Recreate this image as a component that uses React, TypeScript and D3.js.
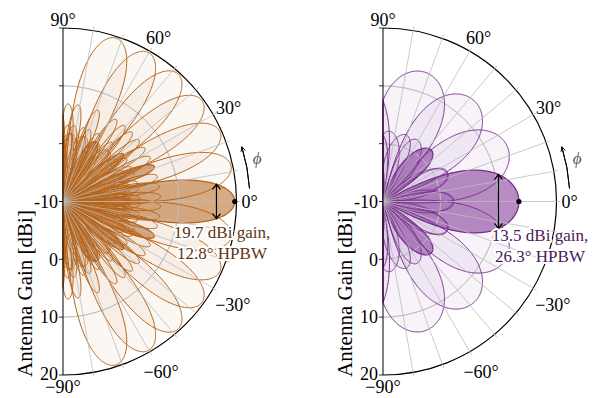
import React, { useEffect, useRef } from 'react';
import * as d3 from 'd3';

const gainTicks = [-10, 0, 10, 20];
const gridGains = [0, 10];
const angleLabels = [90, 60, 30, 0, -30, -60, -90];
const gridAngles = d3.range(-80, 90, 10);

const leftSteer = [-72, -60, -48, -36, -24, -12, 0, 12, 24, 36, 48, 60, 72];
const rightSteer = [-72, -48, -24, 0, 24, 48, 72];

const panels = [
  {
    cx: 63, steer: leftSteer, elements: 8, peak: 19.7, hpbw: 12.8,
    stroke: '#b5651d', text: '#5e3614', lightOpacity: 0.055, mainOpacity: 0.55,
    lines: ['19.7 dBi gain,', '12.8° HPBW'], textX: 222, textY: 232,
  },
  {
    cx: 383, steer: rightSteer, elements: 4, peak: 13.5, hpbw: 26.3,
    stroke: '#7b2d91', text: '#4a1a5a', lightOpacity: 0.06, mainOpacity: 0.55,
    lines: ['13.5 dBi gain,', '26.3° HPBW'], textX: 540, textY: 235,
  },
];

const CY = 201.5;
const R = 173.5;
const FONT = '"Liberation Serif", "Times New Roman", serif';
// vertical nudge of the angle labels, as in the original layout
const labelNudge: Record<number, number> = { 90: -3, 60: -9, 30: -5, 0: 0, '-30': 14, '-60': 16, '-90': 7 };

// broadside array pattern (N elements, half-wavelength), turned to the beam direction
function gainAt(thetaDeg: number, steerDeg: number, n: number, peak: number) {
  const u = Math.sin(((thetaDeg - steerDeg) * Math.PI) / 180);
  const psi = Math.PI * u;
  const den = n * Math.sin(psi / 2);
  const af = Math.abs(den) < 1e-9 ? 1 : Math.abs(Math.sin((n * psi) / 2) / den);
  return peak + 20 * Math.log10(Math.max(af, 1e-6));
}

const Panel: React.FC<{ p: typeof panels[number] }> = ({ p }) => {
  const gRef = useRef<SVGGElement>(null);

  useEffect(() => {
    if (!gRef.current) return;
    const g = d3.select(gRef.current);
    g.selectAll('*').remove();

    const rScale = d3.scaleLinear().domain([-10, 20]).range([0, R]).clamp(true);
    const rad = (deg: number) => (deg * Math.PI) / 180;
    const pt = (deg: number, r: number): [number, number] => [
      p.cx + r * Math.cos(rad(deg)),
      CY - r * Math.sin(rad(deg)),
    ];

    const thetas = d3.range(-90, 90.001, 0.2);
    const line = d3
      .lineRadial<number[]>()
      .angle((d) => Math.PI / 2 - rad(d[0]))
      .radius((d) => rScale(d[1]));

    const root = g.append('g').attr('transform', `translate(${p.cx},${CY})`);

    const beams = p.steer.map((s) => ({
      s,
      pts: thetas.map((t) => [t, gainAt(t, s, p.elements, p.peak)]),
    }));
    const others = beams.filter((b) => b.s !== 0);
    const main = beams.find((b) => b.s === 0)!;
    const pathOf = (b: { pts: number[][] }) => line(b.pts) + 'L0,0Z';

    // fills
    others.forEach((b) => {
      root.append('path')
        .attr('d', pathOf(b))
        .attr('fill', p.stroke)
        .attr('fill-opacity', p.lightOpacity)
        .attr('stroke', 'none');
    });
    root.append('path')
      .attr('d', pathOf(main))
      .attr('fill', p.stroke)
      .attr('fill-opacity', p.mainOpacity)
      .attr('stroke', 'none');

    // grid
    gridGains.forEach((v) => {
      const arc = d3.arc()({ innerRadius: rScale(v), outerRadius: rScale(v), startAngle: 0, endAngle: Math.PI } as any);
      root.append('path').attr('d', arc).attr('fill', 'none').attr('stroke', '#bdbdbd').attr('stroke-width', 0.8);
    });
    gridAngles.forEach((a) => {
      const [x, y] = pt(a, R + 4);
      g.append('line')
        .attr('x1', p.cx).attr('y1', CY).attr('x2', x).attr('y2', y)
        .attr('stroke', '#bdbdbd').attr('stroke-width', 0.8);
    });

    g.append('line')
      .attr('x1', p.cx).attr('x2', p.cx).attr('y1', CY - R).attr('y2', CY + R)
      .attr('stroke', '#000').attr('stroke-width', 1);

    // outlines
    others.forEach((b) => {
      root.append('path')
        .attr('d', pathOf(b))
        .attr('fill', 'none')
        .attr('stroke', p.stroke)
        .attr('stroke-width', 1)
        .attr('stroke-linejoin', 'round');
    });
    root.append('path')
      .attr('d', pathOf(main))
      .attr('fill', 'none')
      .attr('stroke', p.stroke)
      .attr('stroke-width', 1.3)
      .attr('stroke-linejoin', 'round');

    // axes
    const outer = d3.arc()({ innerRadius: R, outerRadius: R, startAngle: 0, endAngle: Math.PI } as any);
    root.append('path').attr('d', outer).attr('fill', 'none').attr('stroke', '#000').attr('stroke-width', 1.2);

    gainTicks.forEach((v) => {
      [1, -1].forEach((sgn) => {
        const y = CY + sgn * rScale(v);
        g.append('line')
          .attr('x1', p.cx - 4).attr('x2', p.cx).attr('y1', y).attr('y2', y)
          .attr('stroke', '#000').attr('stroke-width', 0.8);
      });
      g.append('text')
        .attr('x', p.cx - 5).attr('y', CY + rScale(v) - (v === 20 ? 1 : 0))
        .attr('dy', '0.35em')
        .attr('text-anchor', 'end')
        .attr('font-family', FONT).attr('font-size', 18)
        .text(String(v));
    });

    g.append('text')
      .attr('transform', `translate(${p.cx - 31},${CY + 92}) rotate(-90)`)
      .attr('text-anchor', 'middle')
      .attr('font-family', FONT).attr('font-size', 21)
      .text('Antenna Gain [dBi]');

    angleLabels.forEach((a) => {
      const [x, y] = pt(a, R + 5);
      const t = g.append('text')
        .attr('dy', '0.35em')
        .attr('text-anchor', 'middle')
        .attr('font-family', FONT).attr('font-size', 18)
        .text(`${a < 0 ? '\u2212' + -a : a}°`);
      const w = (t.node() as SVGTextElement).getComputedTextLength();
      t.attr('x', x + (w / 2) * Math.cos(rad(a))).attr('y', y + labelNudge[a]);
    });

    // phi arrow
    const phiArc = d3.arc()({ innerRadius: 187, outerRadius: 187, startAngle: Math.PI / 2 - rad(17), endAngle: Math.PI / 2 - rad(4) } as any);
    root.append('path').attr('d', phiArc).attr('fill', 'none').attr('stroke', '#000').attr('stroke-width', 1);
    const [tx, ty] = pt(17, 187);
    const dx = -Math.sin(rad(17)), dy = -Math.cos(rad(17));
    const head = (ang: number) => {
      const c = Math.cos(ang), s = Math.sin(ang);
      return [tx - 5 * (dx * c - dy * s), ty - 5 * (dx * s + dy * c)];
    };
    const h1 = head(0.45), h2 = head(-0.45);
    g.append('path')
      .attr('d', `M${h1[0]},${h1[1]}L${tx},${ty}L${h2[0]},${h2[1]}`)
      .attr('fill', 'none').attr('stroke', '#000').attr('stroke-width', 1);
    const [fx, fy] = pt(12.6, 199);
    g.append('text')
      .attr('x', fx).attr('y', fy).attr('dy', '0.35em')
      .attr('text-anchor', 'middle')
      .attr('font-family', FONT).attr('font-size', 17).attr('font-style', 'italic')
      .attr('fill', '#555')
      .text('ϕ');

    // HPBW arrow
    const rHalf = rScale(p.peak - 3);
    const a1 = pt(p.hpbw / 2, rHalf);
    const a2 = pt(-p.hpbw / 2, rHalf);
    const ax = (a1[0] + a2[0]) / 2;
    g.append('line')
      .attr('x1', ax).attr('x2', ax).attr('y1', a1[1]).attr('y2', a2[1])
      .attr('stroke', '#000').attr('stroke-width', 1.2);
    [[a1[1], 1], [a2[1], -1]].forEach(([y, s]) => {
      g.append('path')
        .attr('d', `M${ax - 4},${y + s * 5}L${ax},${y}L${ax + 4},${y + s * 5}`)
        .attr('fill', 'none').attr('stroke', '#000').attr('stroke-width', 1.2);
    });

    const peakPt = pt(0, rScale(p.peak));
    g.append('circle').attr('cx', peakPt[0]).attr('cy', peakPt[1]).attr('r', 2.6).attr('fill', '#000');

    // annotation
    p.lines.forEach((t, i) => {
      g.append('text')
        .attr('x', p.textX).attr('y', p.textY + i * 21)
        .attr('dy', '0.35em')
        .attr('text-anchor', 'middle')
        .attr('font-family', FONT).attr('font-size', 17)
        .attr('fill', p.text)
        .attr('stroke', '#fff').attr('stroke-width', 4)
        .attr('stroke-linejoin', 'round')
        .attr('paint-order', 'stroke')
        .text(t);
    });
  }, [p]);

  return <g ref={gRef} />;
};

export default function App() {
  return (
    <svg width={601} height={398} style={{ position: 'absolute', left: 0, top: 0, background: '#fff' }}>
      {panels.map((p, i) => (
        <Panel key={i} p={p} />
      ))}
    </svg>
  );
}
